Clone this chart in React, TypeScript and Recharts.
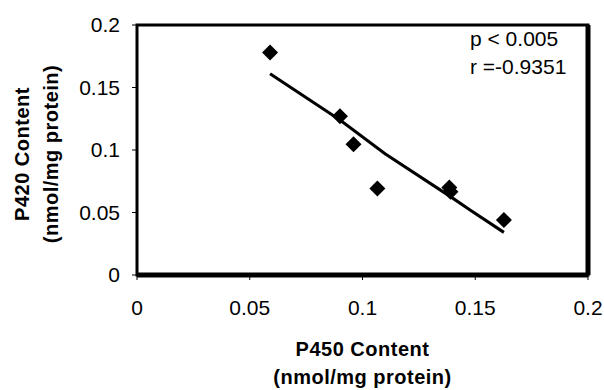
import React from 'react';
import {
  ComposedChart,
  Scatter,
  XAxis,
  YAxis,
  ReferenceArea,
  ReferenceLine,
} from 'recharts';

// measured points (P450 vs P420)
const p450 = [0.059, 0.09, 0.096, 0.1066, 0.1385, 0.139, 0.1627];
const p420 = [0.178, 0.127, 0.1046, 0.0693, 0.07, 0.0667, 0.044];

// trend line
const trendX = [0.059, 0.09, 0.11, 0.139, 0.1477, 0.1627];
const trendY = [0.161, 0.124, 0.097, 0.0627, 0.052, 0.0341];

const ticks = [0, 0.05, 0.1, 0.15, 0.2];
const annotation = ['p < 0.005', 'r =-0.9351'];

const points = p450.map((x, i) => ({ x, y: p420[i] }));
const trend = trendX.map((x, i) => ({ x, y: trendY[i] }));

const FONT = '"Liberation Sans", Arial, sans-serif';

const Diamond = (props: any) => {
  const { cx, cy } = props;
  if (cx == null || cy == null) return <g />;
  const r = 8;
  return (
    <polygon
      points={`${cx},${cy - r} ${cx + r},${cy} ${cx},${cy + r} ${cx - r},${cy}`}
      fill="#000"
    />
  );
};

const titleProps = {
  fontFamily: FONT,
  fontSize: 20,
  fontWeight: 'bold',
  fill: '#000',
  letterSpacing: 0.5,
};

const YTitle = () => {
  const cy = 154;
  return (
    <g {...titleProps}>
      <text x={22} y={cy} textAnchor="middle" dominantBaseline="central" transform={`rotate(-90 22 ${cy})`}>
        P420 Content
      </text>
      <text x={51} y={cy} textAnchor="middle" dominantBaseline="central" transform={`rotate(-90 51 ${cy})`}>
        (nmol/mg protein)
      </text>
    </g>
  );
};

const XTitle = (props: any) => {
  const vb = props.viewBox || {};
  const cx = vb.x + vb.width / 2;
  return (
    <g {...titleProps}>
      <text x={cx} y={349} textAnchor="middle" dominantBaseline="central">
        P450 Content
      </text>
      <text x={cx} y={377} textAnchor="middle" dominantBaseline="central">
        (nmol/mg protein)
      </text>
    </g>
  );
};

const tickStyle = { fontSize: 21, fill: '#000', fontFamily: FONT };

export default function App() {
  return (
    <div style={{ position: 'absolute', left: 0, top: 0, width: 604, height: 390, background: '#fff' }}>
      <ComposedChart
        width={604}
        height={390}
        data={trend}
        margin={{ top: 25, right: 16, left: 0, bottom: 0 }}
      >
        <XAxis
          type="number"
          dataKey="x"
          domain={[0, 0.2]}
          ticks={ticks}
          height={115}
          tick={tickStyle}
          tickLine={{ stroke: '#000' }}
          tickSize={5}
          tickMargin={20}
          axisLine={false}
          label={{ content: XTitle }}
        />
        <YAxis
          type="number"
          dataKey="y"
          domain={[0, 0.2]}
          ticks={ticks}
          width={137}
          tick={tickStyle}
          tickLine={{ stroke: '#000' }}
          tickSize={5}
          tickMargin={12}
          axisLine={false}
          label={{ content: YTitle }}
        />
        <ReferenceArea
          x1={0}
          x2={0.2}
          y1={0}
          y2={0.2}
          fill="none"
          stroke="#000"
          strokeWidth={3}
          ifOverflow="visible"
        />
        <ReferenceLine x={0.2} stroke="#000" strokeWidth={5} ifOverflow="visible" />
        <ReferenceLine y={0} stroke="#000" strokeWidth={5} ifOverflow="visible" />
        <Scatter
          data={trend}
          line={{ stroke: '#000', strokeWidth: 3 }}
          shape={() => <g />}
          isAnimationActive={false}
        />
        <Scatter data={points} shape={Diamond} isAnimationActive={false} />
      </ComposedChart>
      <div
        style={{
          position: 'absolute',
          left: 470,
          top: 25,
          fontFamily: FONT,
          fontSize: 21,
          lineHeight: '28px',
          color: '#000',
          whiteSpace: 'pre',
        }}
      >
        {annotation.map((t) => (
          <div key={t}>{t}</div>
        ))}
      </div>
    </div>
  );
}
